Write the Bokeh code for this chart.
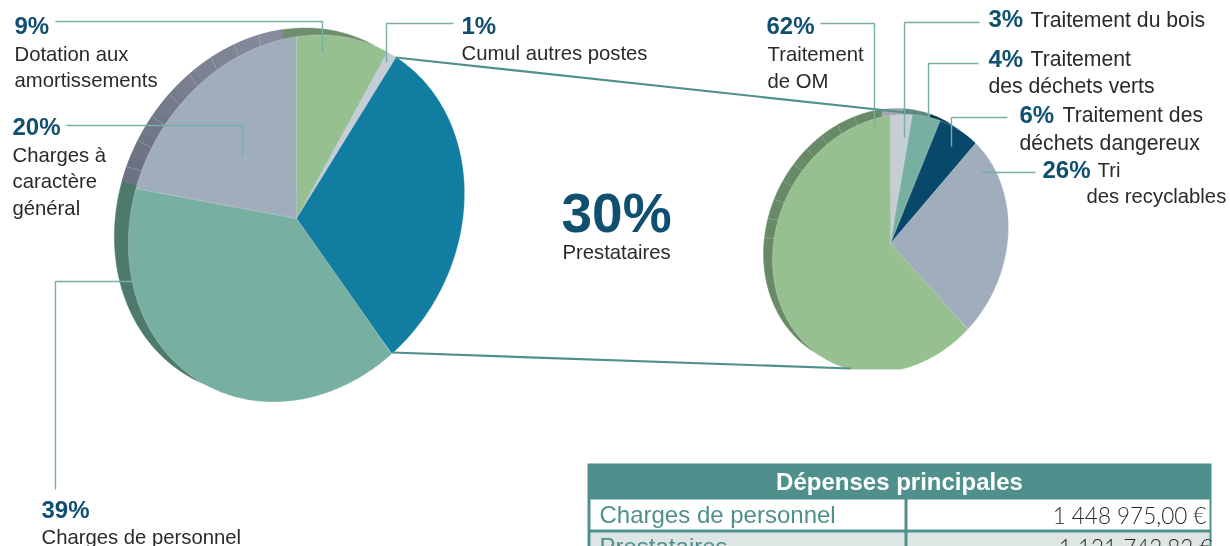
import numpy as np
from bokeh.plotting import figure
from bokeh.models import Range1d
from bokeh.core.properties import value
from bokeh.embed import file_html
from bokeh.resources import INLINE

# ---- data ----
main_names = ["Dotation aux amortissements", "Cumul autres postes", "Prestataires",
              "Charges de personnel", "Charges à caractère général"]
main_values = [9, 1, 30, 39, 20]
main_colors = ["#96c08f", "#c5ced5", "#117da1", "#77b0a0", "#a0adbd"]
main_shadow = ["#6f8f6c", "#9aa2aa", "#0c5f7c", "#4d7a6c", "#7a8090"]

sub_names = ["Traitement du bois", "Traitement des déchets verts",
             "Traitement des déchets dangereux", "Tri des recyclables", "Traitement de OM"]
sub_values = [3, 4, 6, 26, 62]
sub_colors = ["#c5ced5", "#77b0a0", "#08486a", "#a0adbd", "#96c08f"]
sub_shadow = ["#a3a6aa", "#5c8a7e", "#063650", "#7a8090", "#688a66"]

table_title = "Dépenses principales"
table_rows = ["Charges de personnel", "Prestataires"]
table_amounts = ["1 448 975,00  €", "1 121 742,82 €"]

NAVY, TEXT, TEAL, LEAD = "#0f4f70", "#2a2a2a", "#4f908c", "#78aea6"
SANS = "Liberation Sans"
BASE_FIX = 0.37  # em offset of alphabetic text in the svg output

p = figure(width=1230, height=546, output_backend="svg", toolbar_location=None,
           x_range=Range1d(0, 1230), y_range=Range1d(546, 0), min_border=0)
p.axis.visible = False
p.grid.visible = False
p.outline_line_color = None
p.styles = {"position": "fixed", "left": "0px", "top": "0px"}


def rim(t, g):
    """Point of the sheared pie at angle t (radians, clockwise from the first slice edge)."""
    cx, cy, rx, ry, s, t0 = g
    u = t + t0
    return cx + rx * np.sin(u) + s * np.cos(u), cy - ry * np.cos(u)


def sector(a, b, g, ymax=None):
    t = np.linspace(a, b, max(4, int((b - a) * 60)))
    x, y = rim(t, g)
    x = np.r_[g[0], x]
    y = np.r_[g[1], y]
    if ymax is not None:
        y = np.minimum(y, ymax)
    return x.tolist(), y.tolist()


def geom(cx, cy, rx, ry, s):
    return (cx, cy, rx, ry, s, -np.arctan2(s, rx))


def pie(values, colors, shadow, g, dx, dy, ticks, grad=None, ymax=None):
    edges = np.cumsum([0] + list(values)) / sum(values) * 2 * np.pi
    gs = (g[0] + dx, g[1] + dy) + g[2:]
    sect = [sector(a, b, gs) for a, b in zip(edges[:-1], edges[1:])]
    p.patches([q[0] for q in sect], [q[1] for q in sect], fill_color=shadow,
              line_color=shadow, line_width=0.5)
    if grad:
        i, c1, c2, n = grad
        c1, c2 = np.array(c1), np.array(c2)
        cuts = np.linspace(edges[i], edges[i + 1], n + 1)
        parts = [sector(a, b, gs) for a, b in zip(cuts[:-1], cuts[1:])]
        cols = ["#%02x%02x%02x" % tuple(int(v) for v in c2 + (c1 - c2) * k / (n - 1)) for k in range(n)]
        p.patches([q[0] for q in parts], [q[1] for q in parts], fill_color=cols,
                  line_color=cols, line_width=0.4)
    # fine pale ticks seen in the rim of the pie
    t = np.radians(np.linspace(*ticks))
    tx, ty = rim(t, gs)
    p.multi_line([[gs[0], v] for v in tx], [[gs[1], v] for v in ty],
                 line_color="#e4e8ea", line_width=0.5, line_alpha=0.5)
    sect = [sector(a, b, g, ymax) for a, b in zip(edges[:-1], edges[1:])]
    p.patches([q[0] for q in sect], [q[1] for q in sect], fill_color=colors,
              line_color="#e8eeee", line_width=0.3)


pie(main_values, main_colors, main_shadow, geom(296, 218, 166.5, 183.5, 23), -14, -7,
    (292, 352, 8), grad=(4, (0x86, 0x8c, 0x9b), (0x6c, 0x72, 0x82), 9))
pie(sub_values, sub_colors, sub_shadow, geom(890, 243, 117, 129, 15), -9, -6,
    (277, 347, 9), ymax=369)

# connector lines
p.multi_line([[395, 905], [392, 850]], [[57, 112], [352, 368]], line_color=TEAL, line_width=2.2)

# leaders
lead_x = [[55, 322, 322], [453, 386, 386], [66, 242, 242], [55, 55, 137],
          [820, 874, 874], [979, 904, 904], [978, 928, 928], [1007, 951, 951], [1035, 981]]
lead_y = [[21, 21, 52], [23, 23, 62], [125, 125, 155], [489, 281, 281],
          [23, 23, 126], [22, 22, 137], [63, 63, 136], [117, 117, 146], [172, 172]]
p.multi_line(lead_x, lead_y, line_color=LEAD, line_width=1.4)


def text(x, y, s, size=20.3, color=TEXT, bold=False, align="left", font=SANS):
    p.text([x], [y - BASE_FIX * size], text=[s], text_font=value(font),
           text_font_size=f"{size}px", text_color=color, text_align=align,
           text_baseline="alphabetic", text_font_style="bold" if bold else "normal")


for x, y, s in [(14, 34, "9%"), (461, 34, "1%"), (12, 135, "20%"), (41, 518, "39%"),
                (766, 34, "62%"), (988, 27, "3%"), (988, 67, "4%"), (1019, 123, "6%"),
                (1042, 178, "26%")]:
    text(x, y, s, size=24, color=NAVY, bold=True)
text(561, 233, "30%", size=55, color=NAVY, bold=True)

for x, y, s in [(14, 61, "Dotation aux"), (14, 87, "amortissements"),
                (461, 60, "Cumul autres postes"),
                (12, 162, "Charges à"), (12, 188, "caractère"), (12, 215, "général"),
                (41, 544, "Charges de personnel"), (562, 259, "Prestataires"),
                (767, 61, "Traitement"), (767, 88, "de OM"),
                (1097, 177, "Tri"), (1086, 203, "des recyclables")]:
    text(x, y, s)
for x, y, s in [(1030, 27, "Traitement du bois"),
                (1030, 66, "Traitement"), (988, 93, "des déchets verts"),
                (1062, 122, "Traitement des"), (1019, 150, "déchets dangereux")]:
    text(x, y, s, size=21.2)

# table
p.quad(left=[587], right=[1211], top=[463], bottom=[560], fill_color=TEAL, line_color=None)
p.quad(left=[590, 907], right=[904, 1209], top=[499, 499], bottom=[529, 529],
       fill_color="#ffffff", line_color=None)
p.quad(left=[590, 907], right=[904, 1209], top=[532, 532], bottom=[560, 560],
       fill_color="#dde6e5", line_color=None)
text(899, 490, table_title, size=24, color="#ffffff", bold=True, align="center")
for y, name, amount in zip([523, 555], table_rows, table_amounts):
    text(599, y, name, size=24, color=TEAL)
    text(1212, y, amount, size=22.5, color="#2a2a2a", align="right", font="Lato Light")

open("out.html", "w").write(file_html(p, INLINE))
